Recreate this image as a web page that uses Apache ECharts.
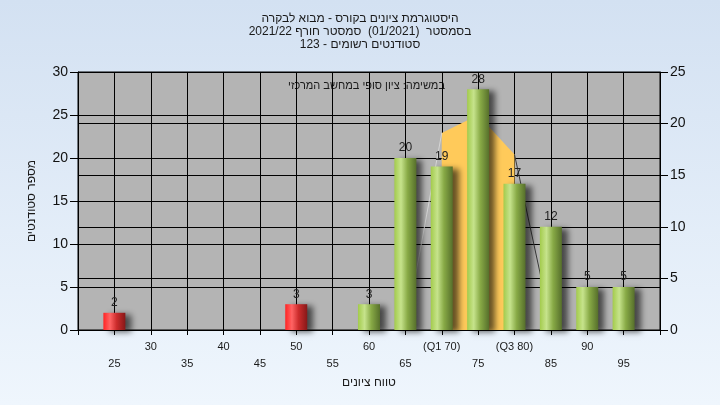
<!DOCTYPE html>
<html>
<head>
<meta charset="utf-8">
<script src="https://cdn.jsdelivr.net/npm/echarts@6/dist/echarts.min.js"></script>
<style>html,body{margin:0;padding:0;}#c{width:720px;height:405px;}</style>
</head>
<body>
<div id="c"></div>
<script>
// ---- data ----
const titleLines = ['היסטוגרמת ציונים בקורס - מבוא לבקרה', 'בסמסטר  (01/2021)  סמסטר חורף 2021/22', 'סטודנטים רשומים - 123'];
const subTitle = 'במשימה: ציון סופי במחשב המרכזי';
const yAxisName = 'מספר סטודנטים';
const xAxisName = 'טווח ציונים';
const xTickValues = [25, 30, 35, 40, 45, 50, 55, 60, 65, 70, 75, 80, 85, 90, 95];
const xTickLabels = ['25', '30', '35', '40', '45', '50', '55', '60', '65', '(Q1 70)', '75', '(Q3 80)', '85', '90', '95'];
const barGrades = [25, 50, 60, 65, 70, 75, 80, 85, 90, 95];
const barCounts = [2, 3, 3, 20, 19, 28, 17, 12, 5, 5];
const failBelow = 55;
const curveX = [65, 70, 75, 80, 85];
const curveY = [0, 22.9, 25, 20.4, 0.8];
const q1 = 70, q3 = 80;

const chart = echarts.init(document.getElementById('c'));
const FONT = "'Liberation Sans','DejaVu Sans',sans-serif";
const green = new echarts.graphic.LinearGradient(0, 0, 1, 0, [
  {offset: 0, color: '#a3cb4c'}, {offset: 0.3, color: '#c6e38c'}, {offset: 0.6, color: '#88aa46'}, {offset: 1, color: '#566f2b'}]);
const red = new echarts.graphic.LinearGradient(0, 0, 1, 0, [
  {offset: 0, color: '#ff2424'}, {offset: 0.3, color: '#ff6464'}, {offset: 0.6, color: '#cc2c2c'}, {offset: 1, color: '#861818'}]);

const barData = barGrades.map((g, i) => ({
  value: [g, barCounts[i]],
  itemStyle: {color: g < failBelow ? red : green}
}));
const pts = curveX.map((x, i) => [x, curveY[i]]);
const areaPts = pts.filter(p => p[0] >= q1 && p[0] <= q3);
const leftPts = pts.filter(p => p[0] <= q1);
const rightPts = pts.filter(p => p[0] >= q3);

chart.setOption({
  backgroundColor: new echarts.graphic.LinearGradient(0, 0, 0, 1, [
    {offset: 0, color: '#d3e1f2'}, {offset: 1, color: '#eff6fd'}]),
  animation: false,
  textStyle: {fontFamily: FONT},
  title: {
    text: titleLines.join('\n'),
    left: 'center', top: 7,
    textStyle: {fontSize: 12, fontWeight: 'normal', color: '#1a1a1a', lineHeight: 13, fontFamily: FONT}
  },
  graphic: [{
    type: 'text', right: 275, top: 80,
    style: {text: subTitle, fill: '#1a1a1a', font: '11px ' + FONT}
  }],
  grid: {left: 78, right: 60, top: 72, bottom: 75, show: true, backgroundColor: '#b4b4b4', borderColor: '#000', borderWidth: 1},
  xAxis: {
    type: 'value', min: 20, max: 100, interval: 5,
    name: xAxisName, nameLocation: 'middle', nameGap: 45,
    nameTextStyle: {fontSize: 12, color: '#1a1a1a'},
    axisLine: {lineStyle: {color: '#000'}},
    axisTick: {show: true, length: 5, lineStyle: {color: '#000'}},
    splitLine: {show: true, lineStyle: {color: '#000', width: 1}},
    axisLabel: {
      fontSize: 11, color: '#1a1a1a', margin: 8, lineHeight: 17,
      formatter: v => {
        const i = xTickValues.indexOf(v);
        if (i < 0) return '';
        return ((v - 25) % 10 === 0) ? '\n' + xTickLabels[i] : xTickLabels[i];
      }
    }
  },
  yAxis: [{
    type: 'value', min: 0, max: 30, interval: 5, position: 'left',
    name: yAxisName, nameLocation: 'middle', nameGap: 40,
    nameTextStyle: {fontSize: 12, color: '#1a1a1a'},
    axisLine: {show: true, lineStyle: {color: '#000'}},
    axisTick: {show: true, length: 8, lineStyle: {color: '#000'}},
    splitLine: {show: true, lineStyle: {color: '#000', width: 1}},
    axisLabel: {fontSize: 14, color: '#111', margin: 10}
  }, {
    type: 'value', min: 0, max: 25, interval: 5, position: 'right',
    axisLine: {show: true, lineStyle: {color: '#000'}},
    axisTick: {show: true, length: 8, lineStyle: {color: '#000'}},
    splitLine: {show: true, lineStyle: {color: '#000', width: 1}},
    axisLabel: {fontSize: 14, color: '#111', margin: 10}
  }],
  series: [{
    type: 'line', data: areaPts, symbol: 'none', z: 1,
    lineStyle: {width: 0}, areaStyle: {color: '#ffca5a', opacity: 1}
  }, {
    type: 'line', data: leftPts, symbol: 'none', z: 1,
    lineStyle: {width: 1, color: '#d6d6d6'}
  }, {
    type: 'line', data: rightPts, symbol: 'none', z: 1,
    lineStyle: {width: 1, color: '#3a3a3a'}
  }, {
    type: 'bar', data: barData, barWidth: 22, z: 3,
    itemStyle: {shadowColor: 'rgba(0,0,0,0.6)', shadowBlur: 6, shadowOffsetX: 6, shadowOffsetY: 2},
    label: {show: true, position: 'top', distance: 4, fontSize: 12, color: '#222'}
  }]
});
</script>
</body>
</html>
